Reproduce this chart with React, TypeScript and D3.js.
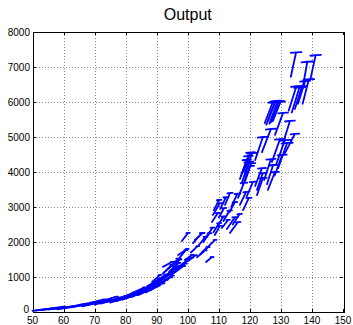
import React from "react";
import * as d3 from "d3";

const title = "Output";
const xTicks = [50, 60, 70, 80, 90, 100, 110, 120, 130, 140, 150];
const yTicks = [0, 1000, 2000, 3000, 4000, 5000, 6000, 7000, 8000];

// arrow bases (x, y) and components (u, v), data units
const baseX = [
  133.2, 137.0, 139.5, 137.0, 132.5, 133.5, 134.5, 135.5,
  124.8, 125.3, 125.8, 126.3, 126.8, 127.4,
  128.1, 130.7, 131.3, 121.7, 123.9, 127.1, 128.4, 129.1,
  118.4, 117.5, 117.8, 124.6, 121.7, 125.8, 122.3, 116.8, 117.2, 118.0, 118.5,
  116.2, 122.3, 125.5, 128.0, 112.0, 108.4, 116.8, 117.8, 110.0, 113.4,
  112.6, 113.6, 111.0, 101.7, 98.1, 107.8, 108.1, 108.3, 108.7,
  106.5, 104.6, 105.9, 97.5, 96.9, 92.0, 99.1, 102.3, 88.5,
  95.0, 96.0, 100.0, 103.0, 104.0, 101.0,
  103.5, 105.0, 109.5, 111.5, 114.5, 106.0, 110.5, 114.0, 119.0,
  50, 51, 53, 55, 57, 58, 60, 61, 63, 64, 66, 67, 68, 70, 71, 72, 74, 75, 76, 77,
  78, 79, 80, 80.5, 81, 82, 83, 84, 84, 85, 86, 86.5, 87, 88, 88, 89, 90, 90.5,
  91, 92, 93, 94, 93, 95, 96, 97,
  52, 56, 62, 65, 69, 73, 76, 79, 82, 85, 87, 89, 91, 92, 94, 94.5,
];
const baseY = [
  6720, 6400, 6650, 5950, 5750, 5700, 5800, 5950,
  5400, 5350, 5450, 5380, 5420, 5450,
  5060, 4830, 4540, 4340, 4570, 4290, 4200, 4110,
  3910, 3710, 3630, 3770, 3600, 3490, 3340, 3800, 3900, 4000, 3750,
  3260, 3490, 3650, 3900, 3060, 2910, 3060, 2910, 2700, 2850,
  2370, 2260, 2400, 1970, 2030, 2570, 2770, 2280, 2200,
  1860, 1710, 1430, 1570, 1630, 1290, 1490, 2060, 860,
  1300, 1150, 1450, 1560, 1650, 1700,
  1900, 2000, 2450, 2600, 2500, 2150, 2950, 3000, 3300,
  30, 45, 55, 70, 90, 75, 110, 130, 140, 170, 160, 200, 230, 210, 260, 240, 300, 270, 340, 310,
  390, 350, 440, 400, 480, 430, 520, 480, 580, 530, 620, 560, 680, 620, 760, 700, 820, 760,
  900, 980, 1050, 1150, 1180, 1100, 1200, 1250,
  60, 100, 150, 200, 270, 330, 300, 420, 540, 600, 740, 840, 820, 1100, 1250, 1050,
];
const deltaX = [
  1.7, 1.5, 1.7, 2.0, 2.5, 2.5, 2.3, 2.3,
  2.6, 2.7, 2.5, 2.6, 2.6, 2.5,
  2.6, 2.2, 3.2, 2.5, 2.9, 2.6, 2.9, 2.9,
  2.3, 2.2, 2.2, 2.2, 2.2, 2.3, 1.9, 2.2, 2.3, 2.2, 2.0,
  1.9, 1.9, 2.0, 2.4, 1.6, 1.7, 2.0, 1.9, 1.7, 1.8,
  2.6, 2.6, 2.0, 2.9, 2.0, 1.9, 2.3, 1.8, 1.7,
  2.3, 1.9, 1.9, 1.9, 2.9, 2.9, 2.3, 2.6, 2.6,
  2.5, 2.5, 2.5, 2.6, 2.5, 2.2,
  2.2, 2.0, 2.0, 2.0, 2.2, 2.0, 1.8, 2.0, 2.0,
  3, 4, 3, 4, 4, 4, 4, 4, 4, 4, 4, 4, 4, 4, 4, 4, 4, 4, 4, 4,
  4, 4, 4, 4, 4, 4, 4, 4, 4, 4, 4, 4, 4, 4, 3, 4, 4, 4,
  4, 4, 4, 3, 3, 4, 4, 4,
  4, 4, 4, 4, 4, 4, 4, 4, 4, 4, 4, 4, 4, 3, 3, 4,
];
const deltaY = [
  700, 750, 690, 700, 700, 720, 650, 650,
  600, 650, 580, 640, 600, 560,
  630, 630, 550, 660, 660, 650, 710, 720,
  630, 580, 540, 600, 510, 510, 490, 550, 560, 560, 500,
  430, 480, 550, 590, 340, 290, 370, 350, 270, 290,
  340, 310, 230, 290, 230, 260, 340, 260, 260,
  200, 150, 140, 200, 170, 140, 140, 200, 200,
  200, 180, 170, 200, 200, 180,
  250, 250, 280, 300, 300, 260, 330, 380, 420,
  30, 40, 40, 50, 50, 55, 60, 60, 70, 70, 80, 80, 90, 90, 100, 100, 110, 110, 120, 120,
  130, 140, 150, 150, 160, 160, 170, 170, 180, 180, 190, 190, 200, 200, 200, 220, 240, 230,
  250, 260, 270, 250, 260, 280, 300, 300,
  40, 50, 60, 70, 90, 110, 110, 140, 160, 180, 200, 230, 220, 250, 280, 260,
];

const W = 353;
const H = 325;
const L = 32.5, R = 343, T = 32, B = 312;

export default function App() {
  const x = d3.scaleLinear().domain([50, 150]).range([L, R]);
  const y = d3.scaleLinear().domain([0, 8000]).range([B, T]);
  const font = "'Liberation Sans', Arial, Helvetica, sans-serif";

  const arrows = baseX.map((bx, i) => {
    const x0 = x(bx), y0 = y(baseY[i]);
    const x1 = x(bx + deltaX[i]), y1 = y(baseY[i] + deltaY[i]);
    const vpx = Math.abs(y1 - y0);
    const hw = Math.max(1.5, Math.min(6, 0.22 * vpx));
    return `M${x0},${y0}L${x1},${y1}M${x1 - hw},${y1 + hw * 0.12}L${x1},${y1}L${x1 + hw},${y1 - hw * 0.04}`;
  });

  return (
    <svg width={W} height={H} style={{ position: "absolute", left: 0, top: 0, background: "#fff" }}>
      <rect x={0} y={0} width={W} height={H} fill="#fff" />
      <g stroke="#8c8c8c" strokeWidth={1} strokeDasharray="1,2" shapeRendering="crispEdges">
        {xTicks.slice(1, -1).map((t) => (
          <line key={"gx" + t} x1={Math.round(x(t)) + 0.5} x2={Math.round(x(t)) + 0.5} y1={T} y2={B} />
        ))}
        {yTicks.slice(1, -1).map((t) => (
          <line key={"gy" + t} x1={L} x2={R} y1={Math.round(y(t)) + 0.5} y2={Math.round(y(t)) + 0.5} />
        ))}
      </g>
      <g fill="none" stroke="#0000ff" strokeWidth={1.8} strokeLinecap="round" strokeLinejoin="round">
        {arrows.map((d, i) => (
          <path key={i} d={d} />
        ))}
      </g>
      <g stroke="#000" strokeWidth={1} shapeRendering="crispEdges">
        {xTicks.map((t) => (
          <g key={"tx" + t}>
            <line x1={Math.round(x(t)) + 0.5} x2={Math.round(x(t)) + 0.5} y1={B} y2={B - 3} />
            <line x1={Math.round(x(t)) + 0.5} x2={Math.round(x(t)) + 0.5} y1={T} y2={T + 3} />
          </g>
        ))}
        {yTicks.map((t) => (
          <g key={"ty" + t}>
            <line x1={L} x2={L + 3} y1={Math.round(y(t)) + 0.5} y2={Math.round(y(t)) + 0.5} />
            <line x1={R} x2={R - 3} y1={Math.round(y(t)) + 0.5} y2={Math.round(y(t)) + 0.5} />
          </g>
        ))}
      </g>
      <rect x={Math.round(L) + 0.5} y={T + 0.5} width={Math.round(R - L)} height={B - T} fill="none" stroke="#000" strokeWidth={1} shapeRendering="crispEdges" />
      <g fontFamily={font} fontSize={10} fill="#000">
        {xTicks.map((t) => (
          <text key={"lx" + t} x={x(t)} y={323.5} textAnchor="middle">{t}</text>
        ))}
        {yTicks.map((t) => (
          <text key={"ly" + t} x={t === 0 ? 29 : 30} y={t === 0 ? y(t) + 1 : y(t) + 3.5} textAnchor="end">{t}</text>
        ))}
      </g>
      <text x={(L + R) / 2} y={20} textAnchor="middle" fontFamily={font} fontSize={16} fill="#000">{title}</text>
    </svg>
  );
}
